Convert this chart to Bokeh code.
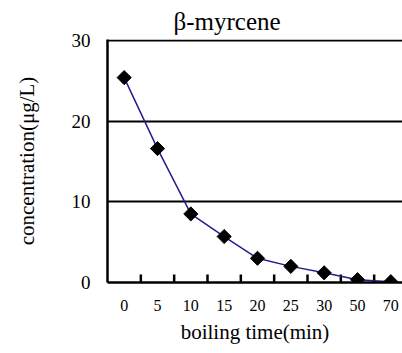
import numpy as np
from bokeh.plotting import figure
from bokeh.models import FixedTicker, Range1d, Title
from bokeh.embed import file_html
from bokeh.resources import INLINE

categories = ["0", "5", "10", "15", "20", "25", "30", "50", "70"]
concentration = [25.4, 16.6, 8.5, 5.7, 3.0, 2.0, 1.2, 0.35, 0.1]
y_ticks = [0, 10, 20, 30]

xs = list(range(len(categories)))
boundaries = [i + 0.5 for i in xs[:-1]]
SERIF = "Liberation Serif"

p = figure(width=402, height=353, output_backend="svg", toolbar_location=None,
           x_range=Range1d(-0.5, 8.35), y_range=Range1d(0, 30.12),
           min_border_left=107, min_border_right=0, min_border_top=39,
           min_border_bottom=71)
p.outline_line_color = None
p.background_fill_color = "white"
p.border_fill_color = "white"

p.title = Title(text="β-myrcene", align="left", offset=66,
                text_font=SERIF, text_font_size="25px", text_font_style="normal",
                text_color="black")

# x axis with category labels
p.xaxis.ticker = FixedTicker(ticks=xs)
p.xaxis.major_label_overrides = {i: c for i, c in zip(xs, categories)}
p.xaxis.major_tick_in = 0
p.xaxis.major_tick_out = 0
p.xaxis.minor_tick_line_color = None
p.xaxis.axis_line_width = 2.5
p.xaxis.axis_line_color = "black"
p.xaxis.major_label_text_font = SERIF
p.xaxis.major_label_text_font_size = "16px"
p.xaxis.major_label_text_color = "black"
p.xaxis.major_label_standoff = 17
p.xaxis.axis_label = "boiling time(min)"
p.xaxis.axis_label_text_font = SERIF
p.xaxis.axis_label_text_font_size = "21px"
p.xaxis.axis_label_text_font_style = "normal"
p.xaxis.axis_label_text_color = "black"
p.xaxis.axis_label_standoff = 6

# y axis
p.yaxis.ticker = FixedTicker(ticks=y_ticks)
p.yaxis.major_tick_in = 0
p.yaxis.major_tick_out = 0
p.yaxis.minor_tick_line_color = None
p.yaxis.axis_line_width = 2.5
p.yaxis.axis_line_color = "black"
p.yaxis.major_label_text_font = SERIF
p.yaxis.major_label_text_font_size = "19px"
p.yaxis.major_label_text_color = "black"
p.yaxis.major_label_standoff = 17
p.yaxis.axis_label = "concentration(μg/L)"
p.yaxis.axis_label_text_font = SERIF
p.yaxis.axis_label_text_font_size = "21px"
p.yaxis.axis_label_text_font_style = "normal"
p.yaxis.axis_label_text_color = "black"
p.yaxis.axis_label_standoff = 30

p.xgrid.visible = False
p.ygrid.ticker = FixedTicker(ticks=y_ticks)
p.ygrid.grid_line_color = "black"
p.ygrid.grid_line_width = 2

# inward tick marks at category boundaries
tick_len = 1.0
p.segment(x0=boundaries, y0=[0] * len(boundaries), x1=boundaries,
          y1=[tick_len] * len(boundaries), line_color="black", line_width=2.5)

p.line(xs, concentration, line_color="#1f1f8f", line_width=1.5)
p.scatter(xs, concentration, marker="square", angle=np.pi / 4, size=10,
          fill_color="black", line_color="black")

open("out.html", "w").write(file_html(p, INLINE))
